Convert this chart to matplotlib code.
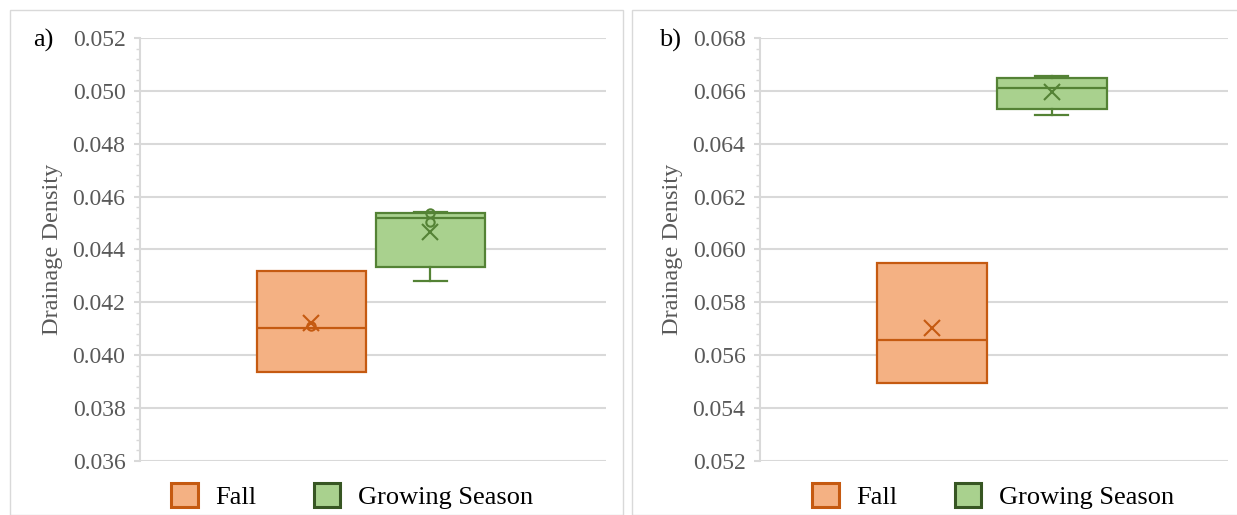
import matplotlib.pyplot as plt
from matplotlib.patches import Patch, Rectangle
from matplotlib.ticker import MultipleLocator

plt.rcParams['font.family'] = ['Liberation Serif', 'DejaVu Serif']

# box stats: q1, median, q3, whisker low, whisker high, mean
categories = ["Fall", "Growing Season"]

a_q1 = [0.03938, 0.04335]
a_med = [0.04102, 0.04521]
a_q3 = [0.04320, 0.04538]
a_lo = [0.03938, 0.04279]
a_hi = [0.04320, 0.04540]
a_mean = [0.04121, 0.04468]
a_points = [[0.04109], [0.04538, 0.04504]]

b_q1 = [0.05495, 0.06530]
b_med = [0.05658, 0.06612]
b_q3 = [0.05950, 0.06648]
b_lo = [0.05495, 0.06508]
b_hi = [0.05950, 0.06657]
b_mean = [0.05702, 0.06595]
b_points = [[], []]

a_ylim = (0.036, 0.052)
b_ylim = (0.052, 0.068)

faces = ["#f4b183", "#a9d18e"]
edges = ["#c55a11", "#548235"]
legend_edges = ["#c55a11", "#375623"]
positions = [0.368, 0.623]

grey = "#595959"
light = "#d9d9d9"

fig = plt.figure(figsize=(12.37, 5.15), dpi=100)

W, H = 1237, 515

# panel frames
fig.patches.append(Rectangle((10 / W, 0), (623 - 10) / W, (H - 10) / H,
                             transform=fig.transFigure, fill=False,
                             edgecolor=light, lw=1))
fig.patches.append(Rectangle((632 / W, 0), (1245 - 632) / W, (H - 10) / H,
                             transform=fig.transFigure, fill=False,
                             edgecolor=light, lw=1))


def panel(left, right, q1, med, q3, lo, hi, mean, points, ylim, tag, tag_x, legend_x):
    ax = fig.add_axes([left / W, 1 - 461 / H, (right - left) / W, (461 - 38) / H])
    ax.set_xlim(0, 1)
    ax.set_ylim(*ylim)

    for i in range(2):
        stats = [dict(med=med[i], q1=q1[i], q3=q3[i], whislo=lo[i], whishi=hi[i],
                      mean=mean[i], fliers=points[i])]
        # no whiskers at all when they sit on the box edges
        caps = not (lo[i] == q1[i] and hi[i] == q3[i])
        ax.bxp(stats, positions=[positions[i]], widths=0.235, capwidths=0.07,
               patch_artist=True, showmeans=True, showfliers=True, showcaps=caps,
               boxprops=dict(facecolor=faces[i], edgecolor=edges[i], lw=1.6),
               medianprops=dict(color=edges[i], lw=1.6),
               whiskerprops=dict(color=edges[i], lw=1.6),
               capprops=dict(color=edges[i], lw=1.6),
               meanprops=dict(marker="x", markeredgecolor=edges[i],
                              markersize=12, markeredgewidth=1.5),
               flierprops=dict(marker="o", markerfacecolor="none",
                               markeredgecolor=edges[i], markersize=6,
                               markeredgewidth=1.5),
               zorder=3)

    ax.set_xticks([])
    ax.yaxis.set_major_locator(MultipleLocator(0.002))
    ax.yaxis.set_minor_locator(MultipleLocator(0.0004))
    ax.yaxis.set_major_formatter(plt.FormatStrFormatter("%.3f"))
    ax.grid(axis="y", color=light, lw=1.5, zorder=0)
    ax.set_axisbelow(True)
    for s in ["top", "right", "bottom"]:
        ax.spines[s].set_visible(False)
    ax.spines["left"].set_color(light)
    ax.spines["left"].set_linewidth(1.5)
    ax.tick_params(axis="y", which="major", length=4.5, width=1.5, color=light,
                   labelsize=17, labelcolor=grey, pad=6)
    ax.tick_params(axis="y", which="minor", length=3, width=1, color=light)
    ax.set_ylabel("Drainage Density", fontsize=17.5, color=grey, labelpad=7)

    fig.text(tag_x / W, 1 - 40 / H, tag, fontsize=19,
             color="black", ha="left", va="center")

    handles = [Patch(facecolor=faces[i], edgecolor=legend_edges[i], lw=2.2,
                     label=categories[i]) for i in range(2)]
    fig.legend(handles=handles, loc="center", ncol=2,
               bbox_to_anchor=(legend_x / W, 1 - 496 / H), frameon=False,
               fontsize=19, handlelength=1.0, handleheight=1.0,
               handletextpad=0.65, columnspacing=2.2)
    return ax


panel(140, 606, a_q1, a_med, a_q3, a_lo, a_hi, a_mean, a_points, a_ylim, "a)", 33, 352)
panel(760, 1228, b_q1, b_med, b_q3, b_lo, b_hi, b_mean, b_points, b_ylim, "b)", 659, 993)

fig.savefig("out.png", dpi=100)
